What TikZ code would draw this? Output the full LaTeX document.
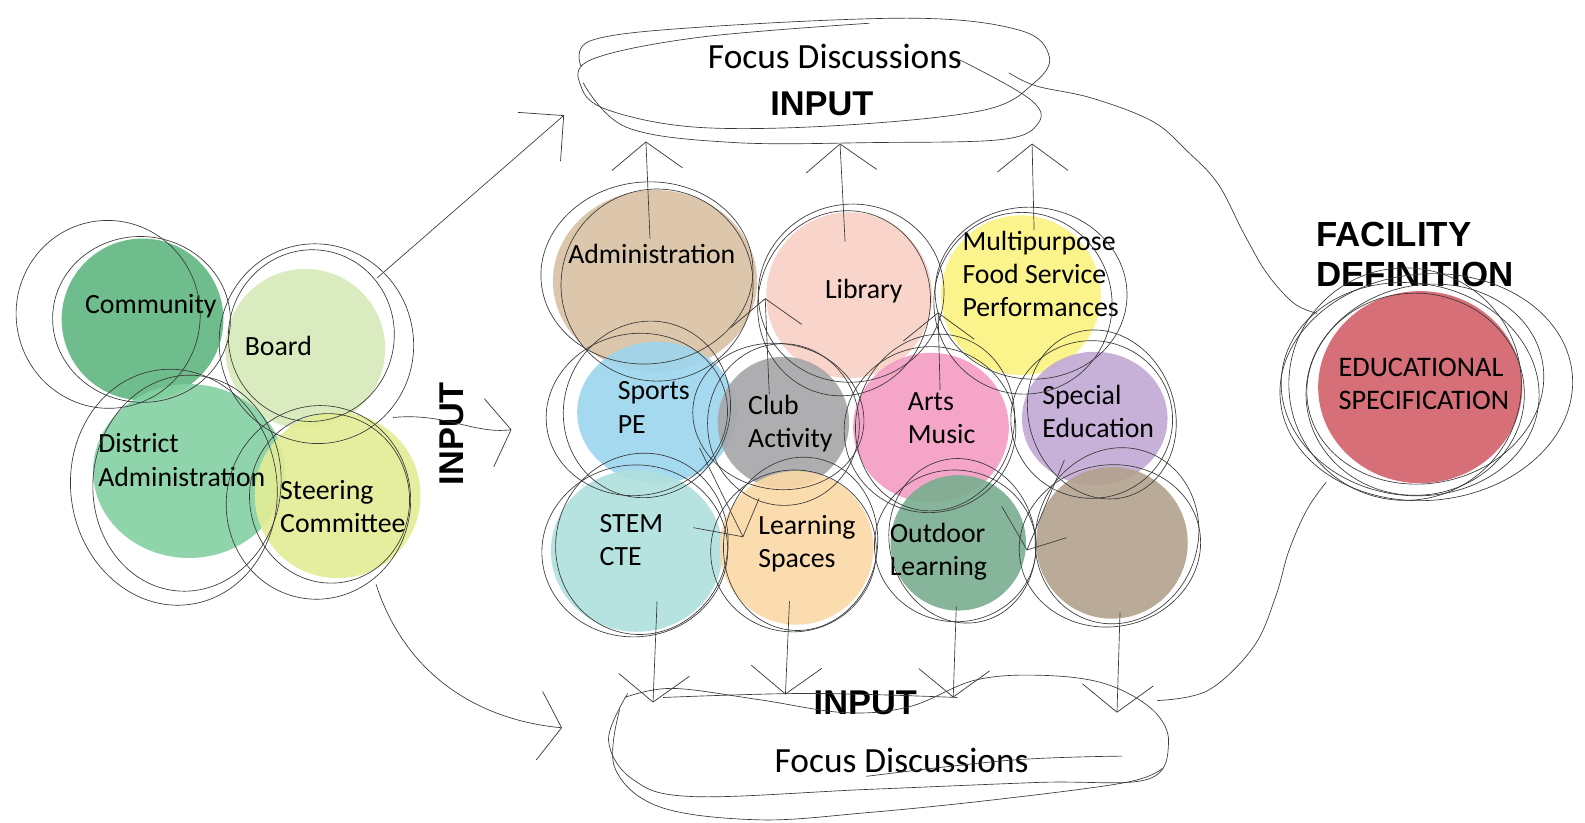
\documentclass[tikz,border=0pt]{standalone}
\usepackage{fontspec}
\setmainfont{Carlito}
\newfontfamily\hdfont{Liberation Sans}
\usetikzlibrary{arrows.meta,shapes.geometric}
\definecolor{cCom}{HTML}{60B681}
\definecolor{cBrd}{HTML}{D5E9B9}
\definecolor{cDis}{HTML}{83D0A1}
\definecolor{cSte}{HTML}{E3ED95}
\definecolor{cAdm}{HTML}{D9C2A5}
\definecolor{cLib}{HTML}{F8D0C6}
\definecolor{cMul}{HTML}{FBF27F}
\definecolor{cSpo}{HTML}{9CD5EE}
\definecolor{cClb}{HTML}{A6A6A9}
\definecolor{cArt}{HTML}{F39CC3}
\definecolor{cSpe}{HTML}{C1A9D4}
\definecolor{cStm}{HTML}{AFE0DD}
\definecolor{cLea}{HTML}{FBD9A7}
\definecolor{cOut}{HTML}{79AE91}
\definecolor{cBro}{HTML}{B3A18D}
\definecolor{cEdu}{HTML}{D3606B}
\tikzset{
  bub/.style={circle, inner sep=0pt, draw=none, fill opacity=0.9},
  ebub/.style={ellipse, inner sep=0pt, draw=none, fill opacity=0.9},
  lbl/.style={font=\fontsize{27.5}{33}\selectfont, align=left, inner sep=0pt, anchor=west},
  hd/.style={font=\hdfont\bfseries\fontsize{34}{40}\selectfont, align=left, inner sep=0pt},
  fd/.style={font=\fontsize{35}{40}\selectfont, inner sep=0pt},
  sk/.style={draw=black!78, line width=0.65pt},
  chev/.style={-{Straight Barb[length=27pt,width=70pt,line width=0.7pt]}},
  chevw/.style={-{Straight Barb[length=22pt,width=68pt,line width=0.7pt]}},
  chevs/.style={-{Straight Barb[length=32pt,width=64pt,line width=0.7pt]}},
}
\begin{document}
\begin{tikzpicture}[x=1pt,y=-1pt]
\useasboundingbox[fill=white] (0,0) rectangle (1568,814);

% ---------- left cluster ----------
\node[bub, fill=cCom, minimum size=160pt] (com) at (141,316) {};
\node[bub, fill=cBrd, minimum size=158pt] (brd) at (302,345) {};
\node[ebub, fill=cDis, minimum width=190pt, minimum height=172pt] (dis) at (187,466) {};
\node[bub, fill=cSte, minimum size=164pt] (ste) at (334,490) {};

\node[lbl] (comT) at (84,303) {Community};
\node[lbl] (brdT) at (242,342) {Board};
\node[lbl] (disT) at (97,455) {District\\Administration};
\node[lbl] (steT) at (277,501) {Steering\\Committee};

\foreach \cx/\cy/\rx/\ry/\ro in {107/311/91/93/10, 140/316/88/82/-5, 313/340/96/99/15, 308/332/82/85/-10,
  172/482/102/117/8, 185/478/93/107/-6, 315/497/91/96/-12, 326/493/79/84/10}
  \draw[sk] (\cx,\cy) ellipse [x radius=\rx, y radius=\ry, rotate=\ro];

\node[hd, rotate=90] (inv) at (447,429) {INPUT};

% ---------- grid ----------
\node[ebub, fill=cAdm, minimum width=202pt, minimum height=180pt] (adm) at (648,278) {};
\node[bub, fill=cLib, minimum size=164pt] (lib) at (840,292) {};
\node[bub, fill=cMul, minimum size=158pt] (mul) at (1010,292) {};
\node[ebub, fill=cSpo, minimum width=158pt, minimum height=140pt] (spo) at (650,408) {};
\node[bub, fill=cClb, minimum size=130pt] (clb) at (775,418) {};
\node[ebub, fill=cArt, minimum width=154pt, minimum height=148pt] (art) at (921,423) {};
\node[ebub, fill=cSpe, minimum width=144pt, minimum height=132pt] (spe) at (1083,414) {};
\node[ebub, fill=cStm, minimum width=170pt, minimum height=160pt] (stm) at (630,545) {};
\node[bub, fill=cLea, minimum size=152pt] (lea) at (788,542) {};
\node[bub, fill=cOut, minimum size=134pt] (out) at (948,537) {};
\node[bub, fill=cBro, minimum size=150pt] (bro) at (1100,537) {};

\node[lbl] (admT) at (562,251) {Administration};
\node[lbl] (libT) at (816,288) {Library};
\node[lbl] (mulT) at (952,271) {Multipurpose\\Food Service\\Performances};
\node[lbl] (spoT) at (611,403) {Sports\\PE};
\node[lbl] (clbT) at (740,419) {Club\\Activity};
\node[lbl] (artT) at (898,414) {Arts\\Music};
\node[lbl] (speT) at (1031,407) {Special\\Education};
\node[lbl] (stmT) at (593,534) {STEM\\CTE};
\node[lbl] (leaT) at (750,538) {Learning\\Spaces};
\node[lbl] (outT) at (880,546) {Outdoor\\Learning};

\foreach \cx/\cy/\rx/\ry/\ro in {640/270/105/90/5, 650/282/95/95/-10, 842/290/92/88/10, 835/300/85/92/-15,
  1020/290/95/85/-5, 1012/300/88/90/15, 630/410/90/80/10, 640/405/82/88/-20,
  775/420/75/80/5, 770/412/85/72/-10, 920/425/85/82/10, 925/418/78/88/-15,
  1080/415/80/78/0, 1090/410/72/85/20, 628/545/92/85/5, 635/538/85/90/-15,
  785/545/82/80/10, 792/538/76/86/-10, 945/540/80/75/-5, 952/535/72/82/15,
  1098/540/90/80/10, 1105/530/80/88/-20}
  \draw[sk] (\cx,\cy) ellipse [x radius=\rx, y radius=\ry, rotate=\ro];

% ---------- right ----------
\node[ebub, fill=cEdu, minimum width=202pt, minimum height=190pt] (edu) at (1405,383) {};
\node[lbl, font=\fontsize{28}{33}\selectfont] (eduT) at (1324,380) {EDUCATIONAL\\SPECIFICATION};
\node[hd, anchor=west, font=\hdfont\bfseries\fontsize{34.5}{40}\selectfont] (facT) at (1302,252) {FACILITY\\DEFINITION};
\foreach \cx/\cy/\rx/\ry/\ro in {1395/385/128/105/-8, 1410/380/118/98/12, 1400/390/108/100/0,
  1411/383/145/112/5, 1390/380/115/115/0}
  \draw[sk] (\cx,\cy) ellipse [x radius=\rx, y radius=\ry, rotate=\ro];

% ---------- top blob ----------
\node[fd] (fdt) at (826,56) {Focus Discussions};
\node[hd] (int) at (813,103) {INPUT};
\draw[sk] plot[smooth, tension=0.6] coordinates {(860,23) (691,37) (585,59) (575,86) (602,109) (691,126) (832,124) (973,109) (1023,82) (1038,56) (1009,30) (903,18) (691,27) (585,40) (575,66)};
\draw[sk] plot[smooth, tension=0.6] coordinates {(577,82) (620,126) (726,141) (867,141) (991,138) (1027,122) (1020,99) (955,62) (940,58)};

% ---------- bottom blob ----------
\node[hd] (inb) at (856,695) {INPUT};
\node[fd] (fdb) at (892,752) {Focus Discussions};
\draw[sk] plot[smooth, tension=0.6] coordinates {(621,686) (602,732) (626,771) (685,788) (857,781) (1028,774) (1135,771) (1156,735) (1140,702) (1092,676) (1028,668) (964,673) (900,699) (836,705) (750,692) (665,681) (618,690)};
\draw[sk] plot[smooth, tension=0.6] coordinates {(613,702) (608,759) (652,798) (750,811) (857,804) (985,791) (1114,774) (1150,760)};
\draw[sk] plot[smooth, tension=0.6] coordinates {(656,690) (800,686) (947,690)};
\draw[sk] plot[smooth, tension=0.6] coordinates {(857,768) (1000,752) (1110,748)};

% ---------- connectors ----------
\coordinate (l1s) at (373,275); \coordinate (l1t) at (558,114);
\draw[sk, chevs] (l1s) -- (l1t);
\coordinate (l2s) at (389,413); \coordinate (l2t) at (506,425);
\draw[sk, chevw] (l2s) .. controls (440,408) and (470,430) .. (l2t);
\coordinate (l3s) at (372,578); \coordinate (l3t) at (556,720);
\draw[sk, chevw] (l3s) .. controls (400,665) and (470,712) .. (l3t);

\coordinate (u1s) at (643,236); \coordinate (u1t) at (639,140);
\coordinate (u2s) at (836,239); \coordinate (u2t) at (831,142);
\coordinate (u3s) at (1023,228); \coordinate (u3t) at (1021,142);
\coordinate (u4s) at (761,390); \coordinate (u4t) at (757,295);
\coordinate (u5s) at (930,386); \coordinate (u5t) at (928,309);
\foreach \p in {u1,u2,u3,u4,u5} \draw[sk, chev] (\p s) -- (\p t);

\coordinate (d1s) at (650,595); \coordinate (d1t) at (646,695);
\coordinate (d2s) at (781,595); \coordinate (d2t) at (777,687);
\coordinate (d3s) at (946,600); \coordinate (d3t) at (943,690);
\coordinate (d4s) at (1108,606); \coordinate (d4t) at (1105,705);
\foreach \p in {d1,d2,d3,d4} \draw[sk, chev] (\p s) -- (\p t);

\coordinate (s1) at (692,443); \coordinate (s2) at (686,522);
\coordinate (sx) at (735,531); \coordinate (s3) at (751,493);
\draw[sk] (s1) -- (sx) -- (s3); \draw[sk] (s2) -- (sx);
\coordinate (p1) at (1053,455); \coordinate (p2) at (991,501);
\coordinate (px) at (1016,544); \coordinate (p3) at (1055,532);
\draw[sk] (p1) -- (px) -- (p3); \draw[sk] (p2) -- (px);

\coordinate (r1s) at (998,72); \coordinate (r1t) at (1303,310);
\draw[sk] plot[smooth, tension=0.6] coordinates {(r1s) (1025,85) (1080,97) (1140,120) (1175,150) (1205,182) (1230,230) (1253,270) (1280,300) (r1t)};
\coordinate (r2s) at (1145,693); \coordinate (r2t) at (1312,477);
\draw[sk] plot[smooth, tension=0.6] coordinates {(r2s) (1195,683) (1240,640) (1262,590) (1275,545) (1293,504) (r2t)};
\end{tikzpicture}
\end{document}
